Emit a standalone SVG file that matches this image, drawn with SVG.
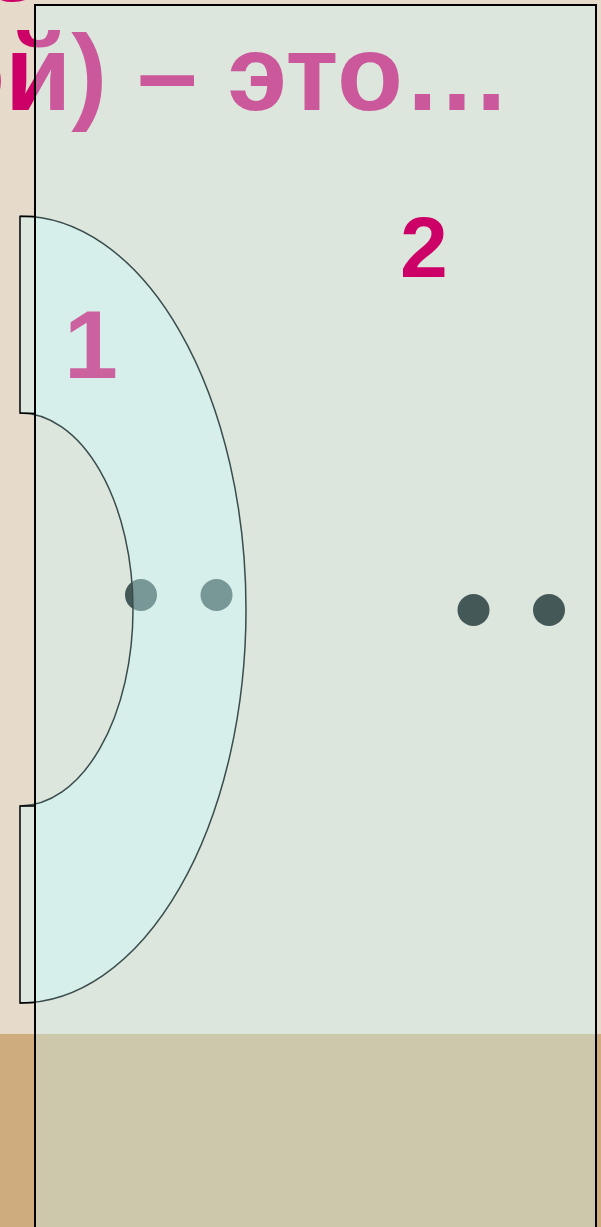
<svg xmlns="http://www.w3.org/2000/svg" width="601" height="1227" viewBox="0 0 601 1227">
  <style>
    .title { font-family: "Liberation Sans", Arial, sans-serif; font-weight: bold; font-size: 108px; fill: #cc0066; }
    .num { font-family: "Liberation Sans", Arial, sans-serif; font-weight: bold; fill: #cc0066; }
    .overlay { fill: #c9fcfe; fill-opacity: 0.35; }
    .shape { fill: #ccffff; fill-opacity: 0.38; stroke: none; }
    .arc { fill: none; stroke: #3a4c4c; stroke-width: 1.5; }
    .edge { fill: none; stroke: #000; stroke-width: 1.5; }
    .dot { fill: #455858; }
  </style>
  <g id="background">
    <rect x="0" y="0" width="601" height="1034" fill="#e6dacb"/>
    <rect x="0" y="1034" width="601" height="193" fill="#cfac7e"/>
  </g>
  <g id="title">
    <text class="title" x="13" y="1" text-anchor="middle">о</text>
    <text class="title" x="-61" y="110">ой) – это…</text>
  </g>
  <g id="panel">
    <rect class="overlay" x="35" y="5" width="561" height="1230"/>
  </g>
  <g id="dots">
    <circle class="dot" cx="141" cy="595" r="16"/>
    <circle class="dot" cx="216.5" cy="595" r="16"/>
    <circle class="dot" cx="473.5" cy="610" r="16"/>
    <circle class="dot" cx="549" cy="610" r="16"/>
  </g>
  <g id="label-2">
    <text class="num" x="424" y="277" font-size="86" text-anchor="middle">2</text>
  </g>
  <g id="label-1">
    <text class="num" x="91" y="378" font-size="97" text-anchor="middle">1</text>
  </g>
  <g id="region-1">
    <path class="shape" d="M20,216 A226,393.5 0 0 1 20,1003 L20,806 A113,196.5 0 0 0 20,413 Z"/>
    <path class="arc" d="M20,216 A226,393.5 0 0 1 20,1003"/>
    <path class="arc" d="M20,413 A113,196.5 0 0 1 20,806"/>
    <path class="edge" d="M35,216.5 L20,216.5 L20,413 L35,413.5"/>
    <path class="edge" d="M35,806 L20,806 L20,1003 L35,1002.5"/>
  </g>
  <g id="connectors"/>
  <g id="panel-border">
    <path d="M35,1230 L35,5 L596,5 L596,1230" fill="none" stroke="#000" stroke-width="2"/>
  </g>
</svg>
